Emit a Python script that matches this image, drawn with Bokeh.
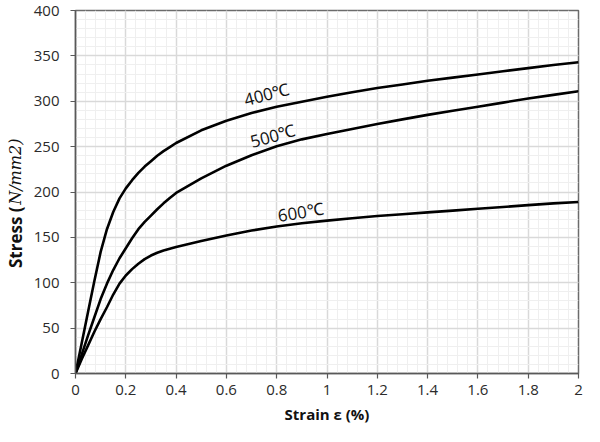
import numpy as np
from bokeh.plotting import figure
from bokeh.layouts import row
from bokeh.models import Range1d, FixedTicker, Label
from bokeh.embed import file_html
from bokeh.resources import INLINE

# ---- data ----
strain = [0, 0.025, 0.05, 0.075, 0.1, 0.125, 0.15, 0.175, 0.2, 0.225, 0.25, 0.275,
          0.3, 0.325, 0.35, 0.375, 0.4, 0.5, 0.6, 0.7, 0.8, 0.9, 1.0, 1.1, 1.2,
          1.3, 1.4, 1.5, 1.6, 1.7, 1.8, 1.9, 2.0]
stress_400 = [0, 34, 68, 102, 134, 159, 178, 193, 204, 213, 221, 228,
              234, 240, 245, 249.5, 254, 268, 278.5, 287, 294, 299.5, 305, 310, 314.5,
              318.5, 322.5, 326, 329.5, 333, 336.5, 340, 343]
stress_500 = [0, 21, 42, 62, 82, 99, 114, 127, 138, 149, 159, 167,
              174, 181, 187.5, 193.5, 199, 215, 229, 240.5, 250.5, 258, 264, 269.5, 275,
              280, 285, 289.5, 294, 298.5, 303, 307, 311]
stress_600 = [0, 16, 31, 46, 60, 73, 87, 99, 108, 115, 121, 126,
              130, 133, 135.5, 137.5, 139.5, 146, 152, 157.5, 162, 165.5, 168.5, 171, 173.5,
              175.5, 177.5, 179.5, 181.5, 183.5, 185.5, 187.5, 189]

curve_labels = ["400\u2103", "500\u2103", "600\u2103"]
label_x = [0.76, 0.785, 0.895]
label_y = [308, 262, 178]
label_angle_deg = [15, 15, 9]

x_ticks = [0, 0.2, 0.4, 0.6, 0.8, 1.0, 1.2, 1.4, 1.6, 1.8, 2.0]
x_tick_labels = ["0", "0.2", "0.4", "0.6", "0.8", "1", "1.2", "1.4", "1.6", "1.8", "2"]
y_ticks = [0, 50, 100, 150, 200, 250, 300, 350, 400]

ylabel_bold = "Stress ("
ylabel_italic = "N/mm2)"

FONT = "Open Sans"
H = 426
LW = 30          # width of the strip holding the y-axis title
W = 584 - LW

p = figure(width=W, height=H, output_backend="svg", toolbar_location=None,
           x_range=Range1d(0, 2), y_range=Range1d(0, 400),
           min_border_left=42, min_border_right=6, min_border_top=10, min_border_bottom=10)

p.background_fill_color = "white"
p.border_fill_color = "white"
p.outline_line_color = "#6b6b6b"
p.outline_line_width = 1.5

x_minor = [round(v, 2) for v in np.arange(0, 2.0001, 0.04)]
y_minor = list(range(0, 401, 10))
p.xaxis.ticker = FixedTicker(ticks=x_ticks, minor_ticks=x_minor)
p.yaxis.ticker = FixedTicker(ticks=y_ticks, minor_ticks=y_minor)
p.xaxis.major_label_overrides = {t: l for t, l in zip(x_ticks, x_tick_labels)}

for g in (p.xgrid, p.ygrid):
    g.grid_line_color = "#d9d9d9"
    g.grid_line_width = 1.5
    g.minor_grid_line_color = "#efefef"
    g.minor_grid_line_width = 1

for ax in (p.xaxis, p.yaxis):
    ax.axis_line_color = "#595959"
    ax.axis_line_width = 1.5
    ax.major_tick_line_color = "#595959"
    ax.major_tick_line_width = 1.2
    ax.major_tick_in = 0
    ax.major_tick_out = 5
    ax.minor_tick_line_color = None
    ax.major_label_text_font = FONT
    ax.major_label_text_font_size = "15px"
    ax.major_label_text_color = "#2b2b2b"

p.xaxis.major_label_standoff = 6
p.yaxis.major_label_standoff = 11

p.xaxis.axis_label = "Strain \u03b5 (%)"
p.xaxis.axis_label_text_font = FONT
p.xaxis.axis_label_text_font_size = "15px"
p.xaxis.axis_label_text_font_style = "bold"
p.xaxis.axis_label_text_color = "#111111"
p.xaxis.axis_label_standoff = 6

for ys in (stress_400, stress_500, stress_600):
    p.line(strain, ys, line_color="black", line_width=2.6, line_join="round")

for t, lx, ly, a in zip(curve_labels, label_x, label_y, label_angle_deg):
    p.add_layout(Label(x=lx, y=ly, text=t, angle=np.deg2rad(a),
                       text_align="center", text_baseline="middle",
                       text_font=FONT, text_font_size="17px", text_color="#111111"))

# ---- left strip carrying the y-axis title (bold + italic parts) ----
q = figure(width=LW, height=H, output_backend="svg", toolbar_location=None,
           x_range=Range1d(0, LW), y_range=Range1d(0, H),
           min_border=0, x_axis_type=None, y_axis_type=None)
q.outline_line_color = None
q.xgrid.visible = False
q.ygrid.visible = False
q.background_fill_color = "white"
q.border_fill_color = "white"

junction_y = 196
q.add_layout(Label(x=15, y=junction_y, text=ylabel_bold, angle=np.pi / 2,
                   text_align="right", text_baseline="middle",
                   text_font=FONT, text_font_size="17px", text_font_style="bold",
                   text_color="#111111"))
q.add_layout(Label(x=15, y=junction_y + 2, text=ylabel_italic, angle=np.pi / 2,
                   text_align="left", text_baseline="middle",
                   text_font="DejaVu Serif", text_font_size="16px", text_font_style="italic",
                   text_color="#111111"))

layout = row(q, p, spacing=0)
open("out.html", "w").write(file_html(layout, INLINE))
